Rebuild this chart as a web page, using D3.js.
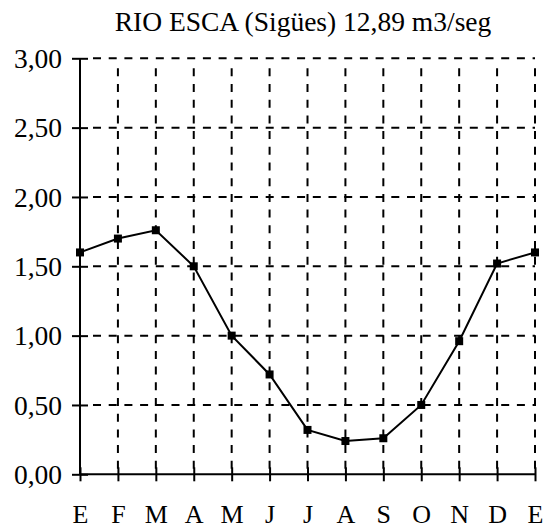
<!DOCTYPE html>
<html>
<head>
<meta charset="utf-8">
<script src="https://cdn.jsdelivr.net/npm/d3@7"></script>
<style>
  html, body { margin: 0; padding: 0; background: #fff; }
  svg { display: block; }
  text { font-family: "Liberation Serif", "Times New Roman", serif; fill: #000; }
</style>
</head>
<body>
<svg id="chart" width="553" height="529"></svg>
<script>
const title = "RIO ESCA (Sigües) 12,89 m3/seg";
const months = ["E", "F", "M", "A", "M", "J", "J", "A", "S", "O", "N", "D", "E"];
const flow = [1.60, 1.70, 1.76, 1.50, 1.00, 0.72, 0.32, 0.24, 0.26, 0.50, 0.96, 1.52, 1.60];
const yTicks = [0, 0.5, 1.0, 1.5, 2.0, 2.5, 3.0];

(function () {
const svg = d3.select("#chart");
const mLeft = 80, mRight = 535, mTop = 58.3, mBottom = 474.3;

const x = d3.scalePoint().domain(d3.range(months.length)).range([mLeft, mRight]);
const y = d3.scaleLinear().domain([0, 3]).range([mBottom, mTop]);
const fmt = v => d3.format(".2f")(v).replace(".", ",");

// title
svg.append("text")
  .attr("x", 303).attr("y", 31)
  .attr("text-anchor", "middle")
  .attr("font-size", 27.5)
  .text(title);

// grid
const grid = svg.append("g").attr("stroke", "#000").attr("stroke-width", 2)
  .attr("stroke-dasharray", "8,7.7").attr("fill", "none");
grid.selectAll("line.h").data(yTicks.filter(d => d > 0)).join("line")
  .attr("class", "h")
  .attr("x1", mLeft + 13).attr("x2", mRight)
  .attr("y1", d => y(d)).attr("y2", d => y(d));
grid.selectAll("line.v").data(d3.range(1, months.length)).join("line")
  .attr("class", "v")
  .attr("x1", d => x(d)).attr("x2", d => x(d))
  .attr("y1", mTop + 10).attr("y2", mBottom);

// y axis
const yAxis = svg.append("g").attr("transform", `translate(${mLeft},0)`)
  .call(d3.axisLeft(y).tickValues(yTicks).tickFormat(fmt).tickSize(8).tickPadding(10));
yAxis.select(".domain").attr("d", `M0,${y(3)}V${y(0)}`).attr("stroke-width", 2);
yAxis.selectAll(".tick line").attr("x1", -8).attr("x2", 8).attr("stroke-width", 2);
yAxis.selectAll(".tick text")
  .attr("font-family", "Liberation Serif, Times New Roman, serif")
  .attr("font-size", 27.5).attr("dy", "0.34em");

// x axis
const xAxis = svg.append("g").attr("transform", `translate(0,${mBottom})`)
  .call(d3.axisBottom(x).tickFormat(i => months[i]).tickSize(7));
xAxis.select(".domain").attr("d", `M${mLeft},0H${mRight}`).attr("stroke-width", 2);
xAxis.selectAll(".tick line").attr("y1", -7).attr("y2", 7).attr("stroke-width", 2);
xAxis.selectAll(".tick text")
  .attr("font-family", "Liberation Serif, Times New Roman, serif")
  .attr("font-size", 26).attr("y", 523 - mBottom).attr("dy", null);

// line
const line = d3.line().x((d, i) => x(i)).y(d => y(d));
svg.append("path").datum(flow)
  .attr("d", line).attr("fill", "none").attr("stroke", "#000").attr("stroke-width", 2);

// markers
svg.selectAll("rect.mk").data(flow).join("rect")
  .attr("class", "mk")
  .attr("x", (d, i) => x(i) - 4).attr("y", d => y(d) - 4)
  .attr("width", 8).attr("height", 8).attr("fill", "#000");
})();
</script>
</body>
</html>
